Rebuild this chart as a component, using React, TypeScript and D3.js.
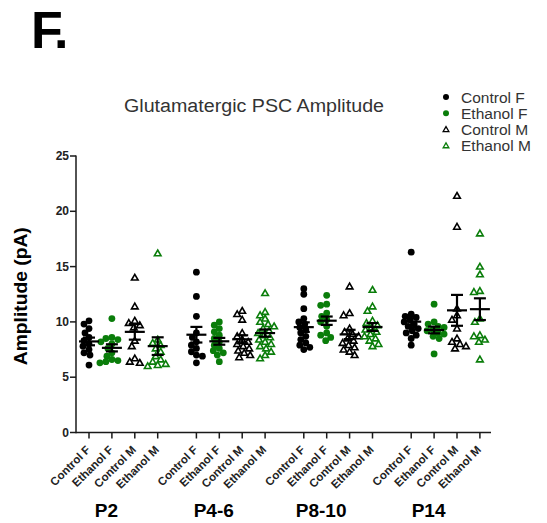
import React from 'react';
import * as d3 from 'd3';

const groups = ['P2', 'P4-6', 'P8-10', 'P14'];
const conditions = ['Control F', 'Ethanol F', 'Control M', 'Ethanol M'];
const yTicks = [0, 5, 10, 15, 20, 25];
const title = 'Glutamatergic PSC Amplitude';
const yTitle = 'Amplitude (pA)';
const panelLabel = 'F.';

// P2
const p2ControlF = [10.1, 9.8, 9.4, 9.0, 8.6, 8.3, 8.0, 7.8, 7.5, 7.2, 7.0, 6.1];
const p2EthanolF = [10.3, 8.6, 8.5, 8.4, 8.2, 8.0, 7.6, 7.2, 6.9, 6.6, 6.5, 6.4, 6.3];
const p2ControlM = [14.0, 11.4, 10.1, 9.9, 9.7, 9.5, 8.3, 7.8, 6.7, 6.4, 6.3];
const p2EthanolM = [16.2, 8.4, 8.1, 7.9, 7.6, 7.3, 6.9, 6.6, 6.4, 6.2, 6.1, 6.0];
// P4-6
const p46ControlF = [14.5, 12.3, 10.5, 9.0, 8.6, 8.2, 7.9, 7.6, 7.3, 7.0, 6.9, 6.3];
const p46EthanolF = [10.0, 9.7, 9.4, 9.1, 8.8, 8.5, 8.2, 7.9, 7.6, 7.4, 7.2, 7.0, 6.4];
const p46ControlM = [11.0, 10.7, 10.2, 9.0, 8.7, 8.4, 8.2, 8.0, 7.8, 7.6, 7.4, 7.2, 7.0, 6.8];
const p46EthanolM = [12.6, 10.9, 10.6, 10.3, 10.0, 9.8, 9.6, 9.4, 9.2, 9.0, 8.8, 8.6, 8.4, 8.2, 8.0, 7.8, 7.6, 7.3, 7.0, 6.7];
// P8-10
const p810ControlF = [13.0, 12.5, 11.2, 10.3, 10.0, 9.8, 9.5, 9.3, 9.0, 8.7, 8.4, 8.1, 7.9, 7.7, 7.5];
const p810EthanolF = [12.4, 11.6, 11.5, 10.8, 10.5, 10.2, 10.0, 9.6, 9.0, 8.8, 8.6, 8.3];
const p810ControlM = [13.2, 10.8, 10.6, 9.4, 9.1, 8.9, 8.7, 8.5, 8.3, 8.1, 7.9, 7.7, 7.5, 7.3, 7.0];
const p810EthanolM = [12.9, 11.4, 11.0, 10.1, 9.9, 9.7, 9.5, 9.3, 9.1, 8.9, 8.7, 8.5, 8.3, 8.0, 7.8];
// P14
const p14ControlF = [16.3, 10.7, 10.5, 10.4, 10.2, 10.0, 9.8, 9.6, 9.4, 9.2, 9.0, 8.8, 8.5, 7.9];
const p14EthanolF = [11.6, 10.0, 9.8, 9.6, 9.5, 9.3, 9.2, 9.0, 8.9, 8.7, 8.5, 7.1];
const p14ControlM = [21.4, 18.6, 11.2, 10.6, 10.2, 9.4, 8.5, 8.2, 8.0, 7.8, 7.6];
const p14EthanolM = [18.0, 15.0, 14.3, 12.8, 12.7, 10.3, 10.0, 8.8, 8.7, 8.4, 8.2, 6.6];

const groupData = [
  [p2ControlF, p2EthanolF, p2ControlM, p2EthanolM],
  [p46ControlF, p46EthanolF, p46ControlM, p46EthanolM],
  [p810ControlF, p810EthanolF, p810ControlM, p810EthanolM],
  [p14ControlF, p14EthanolF, p14ControlM, p14EthanolM],
];

const GREEN = '#0a7d0a';
const FONT = "'Liberation Sans', Arial, Helvetica, sans-serif";
const condStyle = [
  { shape: 'circle', color: '#000' },
  { shape: 'circle', color: GREEN },
  { shape: 'triangle', color: '#000' },
  { shape: 'triangle', color: GREEN },
];

const GROUP_STEP = 4.69; // slots per group (4 categories + gap)
const slotOf = (g: number, j: number) => g * GROUP_STEP + j;

const x = d3.scaleLinear().domain([0, slotOf(3, 3)]).range([89, 479.9]);
const y = d3.scaleLinear().domain([0, 25]).range([432.5, 156]);
const triPath = d3.symbol(d3.symbolTriangle, 19)() as string;

function beeswarm(values: number[], cx: number, d: number) {
  const placed: { x: number; y: number; v: number }[] = [];
  const sorted = [...values].sort((a, b) => b - a);
  for (const v of sorted) {
    const py = y(v);
    let chosen = cx;
    for (let k = 0; k < 80; k++) {
      const off = (k % 2 === 0 ? 1 : -1) * Math.ceil(k / 2) * 1.0;
      const px = cx + off;
      const ok = placed.every((p) => Math.hypot(p.x - px, p.y - py) >= d);
      if (ok) { chosen = px; break; }
    }
    placed.push({ x: chosen, y: py, v });
  }
  return placed;
}

export default function App() {
  const axisColor = '#1a1a1a';
  const xAxisY = y(0);
  return (
    <svg width={547} height={523} style={{ position: 'absolute', left: 0, top: 0, background: '#fff' }}
      fontFamily={FONT}>
      <rect width={547} height={523} fill="#fff" />
      <text x={31} y={48} fontSize={52} fontWeight="bold" fill="#000" letterSpacing={-3}>{panelLabel}</text>
      <text x={254} y={112} fontSize={18} fill="#333" textAnchor="middle" textLength={260} lengthAdjust="spacingAndGlyphs">{title}</text>

      {/* legend */}
      {conditions.map((c, i) => {
        const ly = 97 + i * 16.2;
        const st = condStyle[i];
        return (
          <g key={c}>
            {st.shape === 'circle' ? (
              <circle cx={446} cy={ly} r={3} fill={st.color} />
            ) : (
              <path d={d3.symbol(d3.symbolTriangle, 14)() as string} transform={`translate(446,${ly + 0.5})`} fill="#fff" stroke={st.color} strokeWidth={1.3} />
            )}
            <text x={461} y={ly + 5.5} fontSize={15.5} fill="#333">{c}</text>
          </g>
        );
      })}

      {/* y axis */}
      <line x1={76} x2={76} y1={y(25) - 0.5} y2={xAxisY + 0.7} stroke={axisColor} strokeWidth={1.5} />
      {yTicks.map((t) => (
        <g key={t}>
          <line x1={70} x2={76} y1={y(t)} y2={y(t)} stroke={axisColor} strokeWidth={1.5} />
          <text x={69} y={y(t) + 4} fontSize={12} fontWeight="bold" fill="#222" textAnchor="end">{t}</text>
        </g>
      ))}
      <text transform={`translate(27,${y(12.5) + 2}) rotate(-90)`} fontSize={19} fontWeight="bold" fill="#000" textAnchor="middle" textLength={138} lengthAdjust="spacingAndGlyphs">{yTitle}</text>

      {/* x axis */}
      <line x1={76} x2={491} y1={xAxisY} y2={xAxisY} stroke={axisColor} strokeWidth={1.5} />
      {groups.map((g, gi) => (
        <g key={g}>
          {conditions.map((c, j) => {
            const cx = x(slotOf(gi, j));
            return (
              <g key={c}>
                <line x1={cx} x2={cx} y1={xAxisY} y2={xAxisY + 6} stroke={axisColor} strokeWidth={1.5} />
                <text transform={`translate(${cx + 2},${xAxisY + 18}) rotate(-45)`} fontSize={11.5} fontWeight="bold" fill="#222" textAnchor="end">{c}</text>
              </g>
            );
          })}
          <text x={(x(slotOf(gi, 0)) + x(slotOf(gi, 3))) / 2 - 17} y={517} fontSize={19} fontWeight="bold" fill="#000" textAnchor="middle">{g}</text>
        </g>
      ))}

      {/* data points */}
      {groupData.map((conds, gi) =>
        conds.map((vals, j) => {
          const cx = x(slotOf(gi, j));
          const st = condStyle[j];
          const pts = beeswarm(vals, cx, st.shape === 'circle' ? 5.5 : 6);
          return (
            <g key={`${gi}-${j}`}>
              {pts.map((p, k) =>
                st.shape === 'circle' ? (
                  <circle key={k} cx={p.x} cy={p.y} r={3.4} fill={st.color} />
                ) : (
                  <path key={k} d={triPath} transform={`translate(${p.x},${p.y + 0.5})`} fill="#fff" stroke={st.color} strokeWidth={1.6} />
                )
              )}
            </g>
          );
        })
      )}

      {/* mean ± SEM */}
      {groupData.map((conds, gi) =>
        conds.map((vals, j) => {
          const cx = x(slotOf(gi, j));
          const m = d3.mean(vals) as number;
          const sem = (d3.deviation(vals) as number) / Math.sqrt(vals.length);
          return (
            <g key={`e${gi}-${j}`} stroke="#000" strokeWidth={2.2}>
              <line x1={cx - 10} x2={cx + 10} y1={y(m)} y2={y(m)} />
              <line x1={cx} x2={cx} y1={y(m + sem)} y2={y(m - sem)} />
              <line x1={cx - 6} x2={cx + 6} y1={y(m + sem)} y2={y(m + sem)} />
              <line x1={cx - 6} x2={cx + 6} y1={y(m - sem)} y2={y(m - sem)} />
            </g>
          );
        })
      )}
    </svg>
  );
}
